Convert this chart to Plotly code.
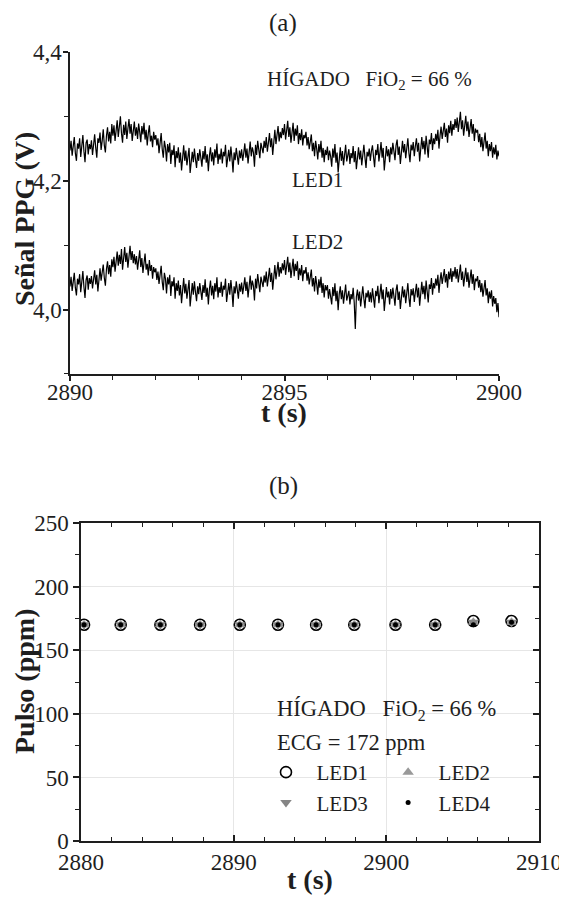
import plotly.graph_objects as go

# ---------------- data: panel (a) PPG signals (V), sampled every 0.025 s from t = 2890 s
ppg_t0 = 2890.0
ppg_dt = 0.025
ppg_led1 = [
    4.247, 4.262, 4.239, 4.255, 4.268, 4.243, 4.231, 4.258, 4.250, 4.266, 4.237, 4.254, 4.271, 4.246, 4.229, 4.259, 4.264, 4.241, 4.257, 4.249,
    4.263, 4.240, 4.256, 4.272, 4.251, 4.236, 4.266, 4.259, 4.275, 4.248, 4.262, 4.280, 4.255, 4.244, 4.270, 4.283, 4.261, 4.276, 4.258, 4.288,
    4.270, 4.286, 4.262, 4.279, 4.294, 4.268, 4.283, 4.300, 4.274, 4.259, 4.287, 4.271, 4.292, 4.265, 4.281, 4.296, 4.273, 4.288, 4.262, 4.284,
    4.292, 4.270, 4.283, 4.265, 4.289, 4.276, 4.260, 4.285, 4.272, 4.290, 4.264, 4.279, 4.255, 4.274, 4.286, 4.261, 4.270, 4.252, 4.276, 4.264,
    4.271, 4.255, 4.266, 4.243, 4.260, 4.274, 4.249, 4.236, 4.262, 4.252, 4.230, 4.257, 4.244, 4.259, 4.226, 4.248, 4.240, 4.255, 4.221, 4.246,
    4.235, 4.252, 4.228, 4.244, 4.216, 4.240, 4.255, 4.231, 4.247, 4.224, 4.238, 4.251, 4.212, 4.236, 4.245, 4.229, 4.250, 4.233, 4.220, 4.243,
    4.231, 4.249, 4.237, 4.222, 4.246, 4.233, 4.254, 4.228, 4.241, 4.215, 4.239, 4.252, 4.230, 4.244, 4.224, 4.249, 4.236, 4.258, 4.226, 4.242,
    4.233, 4.250, 4.227, 4.245, 4.238, 4.256, 4.221, 4.240, 4.248, 4.230, 4.253, 4.236, 4.213, 4.244, 4.232, 4.251, 4.239, 4.225, 4.247, 4.235,
    4.249, 4.231, 4.243, 4.258, 4.236, 4.250, 4.227, 4.246, 4.261, 4.238, 4.252, 4.244, 4.222, 4.256, 4.240, 4.262, 4.247, 4.235, 4.259, 4.251,
    4.243, 4.262, 4.251, 4.268, 4.245, 4.259, 4.274, 4.252, 4.266, 4.240, 4.263, 4.279, 4.257, 4.270, 4.285, 4.261, 4.276, 4.266, 4.282, 4.271,
    4.288, 4.264, 4.279, 4.293, 4.268, 4.283, 4.259, 4.276, 4.290, 4.262, 4.281, 4.270, 4.286, 4.257, 4.274, 4.263, 4.280, 4.255, 4.271, 4.266,
    4.276, 4.255, 4.268, 4.249, 4.263, 4.272, 4.246, 4.259, 4.238, 4.262, 4.250, 4.233, 4.257, 4.244, 4.262, 4.236, 4.251, 4.229, 4.248, 4.240,
    4.253, 4.232, 4.247, 4.238, 4.222, 4.250, 4.236, 4.257, 4.228, 4.244, 4.213, 4.239, 4.252, 4.231, 4.246, 4.224, 4.241, 4.256, 4.230, 4.238,
    4.249, 4.226, 4.243, 4.235, 4.254, 4.229, 4.246, 4.218, 4.240, 4.252, 4.233, 4.247, 4.224, 4.241, 4.256, 4.236, 4.220, 4.245, 4.238, 4.250,
    4.231, 4.246, 4.255, 4.237, 4.221, 4.248, 4.240, 4.257, 4.230, 4.244, 4.260, 4.236, 4.251, 4.216, 4.243, 4.254, 4.238, 4.249, 4.229, 4.252,
    4.241, 4.259, 4.246, 4.232, 4.255, 4.264, 4.240, 4.253, 4.226, 4.249, 4.262, 4.244, 4.257, 4.235, 4.251, 4.266, 4.243, 4.229, 4.256, 4.247,
    4.260, 4.238, 4.254, 4.266, 4.245, 4.259, 4.230, 4.255, 4.268, 4.249, 4.262, 4.241, 4.270, 4.253, 4.236, 4.264, 4.257, 4.274, 4.248, 4.266,
    4.257, 4.273, 4.262, 4.279, 4.250, 4.270, 4.284, 4.265, 4.277, 4.290, 4.268, 4.281, 4.259, 4.286, 4.274, 4.293, 4.270, 4.288, 4.279, 4.296,
    4.282, 4.298, 4.276, 4.291, 4.307, 4.280, 4.294, 4.270, 4.289, 4.301, 4.277, 4.292, 4.268, 4.285, 4.296, 4.273, 4.288, 4.262, 4.281, 4.275,
    4.279, 4.260, 4.273, 4.252, 4.268, 4.246, 4.264, 4.275, 4.250, 4.262, 4.238, 4.257, 4.246, 4.260, 4.236, 4.252, 4.241, 4.256, 4.233, 4.247,
    4.238,
]
ppg_led2 = [
    4.036, 4.051, 4.029, 4.045, 4.057, 4.034, 4.022, 4.048, 4.039, 4.055, 4.027, 4.043, 4.060, 4.035, 4.018, 4.046, 4.053, 4.031, 4.049, 4.040,
    4.052, 4.033, 4.047, 4.061, 4.039, 4.054, 4.028, 4.050, 4.064, 4.045, 4.058, 4.070, 4.049, 4.037, 4.063, 4.075, 4.055, 4.069, 4.051, 4.078,
    4.066, 4.082, 4.059, 4.076, 4.090, 4.068, 4.085, 4.071, 4.094, 4.062, 4.080, 4.097, 4.074, 4.088, 4.065, 4.083, 4.099, 4.077, 4.091, 4.072,
    4.086, 4.070, 4.083, 4.062, 4.079, 4.092, 4.066, 4.080, 4.057, 4.074, 4.087, 4.062, 4.071, 4.053, 4.077, 4.060, 4.069, 4.048, 4.066, 4.058,
    4.064, 4.046, 4.059, 4.040, 4.055, 4.068, 4.043, 4.030, 4.057, 4.048, 4.025, 4.050, 4.039, 4.054, 4.021, 4.044, 4.036, 4.050, 4.017, 4.041,
    4.029, 4.045, 4.022, 4.038, 4.010, 4.034, 4.049, 4.025, 4.040, 4.017, 4.032, 4.046, 4.005, 4.030, 4.041, 4.023, 4.044, 4.027, 4.013, 4.036,
    4.024, 4.041, 4.030, 4.015, 4.038, 4.026, 4.047, 4.020, 4.034, 4.008, 4.032, 4.045, 4.022, 4.037, 4.016, 4.041, 4.028, 4.050, 4.019, 4.035,
    4.026, 4.043, 4.020, 4.037, 4.031, 4.048, 4.012, 4.033, 4.041, 4.023, 4.046, 4.029, 4.004, 4.036, 4.025, 4.044, 4.032, 4.017, 4.040, 4.028,
    4.042, 4.024, 4.036, 4.050, 4.029, 4.043, 4.019, 4.038, 4.053, 4.031, 4.045, 4.037, 4.014, 4.048, 4.033, 4.055, 4.040, 4.027, 4.051, 4.043,
    4.035, 4.053, 4.042, 4.059, 4.036, 4.050, 4.065, 4.043, 4.057, 4.031, 4.054, 4.069, 4.047, 4.060, 4.074, 4.051, 4.066, 4.056, 4.072, 4.061,
    4.077, 4.054, 4.069, 4.082, 4.058, 4.073, 4.049, 4.066, 4.079, 4.052, 4.071, 4.060, 4.075, 4.046, 4.064, 4.053, 4.069, 4.044, 4.061, 4.056,
    4.066, 4.045, 4.058, 4.039, 4.053, 4.062, 4.036, 4.049, 4.028, 4.052, 4.040, 4.023, 4.047, 4.034, 4.051, 4.026, 4.041, 4.019, 4.038, 4.030,
    4.038, 4.017, 4.032, 4.023, 4.008, 4.035, 4.021, 4.041, 4.013, 4.029, 3.999, 4.024, 4.036, 4.016, 4.030, 4.009, 4.026, 4.039, 4.014, 4.022,
    4.029, 4.008, 4.024, 4.016, 4.034, 4.011, 3.970, 4.020, 4.031, 4.014, 4.028, 4.005, 4.022, 4.036, 4.017, 4.002, 4.026, 4.019, 4.030, 4.012,
    4.027, 4.011, 4.033, 4.018, 4.003, 4.029, 4.021, 4.037, 4.010, 4.025, 4.040, 4.016, 4.031, 3.998, 4.024, 4.035, 4.019, 4.028, 4.008, 4.032,
    4.017, 4.034, 4.021, 4.006, 4.030, 4.039, 4.015, 4.028, 4.001, 4.024, 4.036, 4.019, 4.031, 4.010, 4.026, 4.041, 4.018, 4.004, 4.032, 4.022,
    4.033, 4.012, 4.027, 4.040, 4.019, 4.034, 4.006, 4.029, 4.043, 4.024, 4.037, 4.016, 4.045, 4.028, 4.011, 4.039, 4.032, 4.049, 4.023, 4.041,
    4.033, 4.048, 4.037, 4.054, 4.026, 4.045, 4.058, 4.040, 4.051, 4.063, 4.042, 4.055, 4.034, 4.059, 4.047, 4.064, 4.043, 4.060, 4.051, 4.066,
    4.048, 4.063, 4.042, 4.057, 4.070, 4.046, 4.059, 4.036, 4.054, 4.065, 4.043, 4.058, 4.034, 4.051, 4.062, 4.040, 4.055, 4.030, 4.048, 4.044,
    4.052, 4.034, 4.046, 4.027, 4.041, 4.020, 4.037, 4.046, 4.022, 4.033, 4.010, 4.028, 4.017, 4.030, 4.005, 4.021, 4.009, 4.018, 3.996, 4.010,
    3.988,
]

# ---------------- data: panel (b) pulse rate (ppm)
pulse_t = [2880.2, 2882.6, 2885.2, 2887.8, 2890.4, 2892.9, 2895.4, 2897.9, 2900.6, 2903.2, 2905.7, 2908.2]
pulse_led1 = [170, 170, 170, 170, 170, 170, 170, 170, 170, 170, 173, 173]
pulse_led2 = [170, 170, 170, 170, 170, 170, 170, 170, 170, 170, 172, 172]
pulse_led3 = [170, 170, 170, 170, 170, 170, 170, 170, 170, 170, 172, 172]
pulse_led4 = [170, 170, 170, 170, 170, 170, 170, 170, 170, 170, 170, 172]

# ---------------- tick labels
a_xticks = [2890, 2895, 2900]
a_yticks = [4.0, 4.2, 4.4]
a_yticktext = ["4,0", "4,2", "4,4"]
b_xticks = [2880, 2890, 2900, 2910]
b_yticks = [0, 50, 100, 150, 200, 250]

FONT = "Liberation Serif"
INK = "#1e1e1e"

fig = go.Figure()

fig.add_trace(go.Scatter(x0=ppg_t0, dx=ppg_dt, y=ppg_led1, mode="lines",
                         line=dict(color="black", width=1.2), showlegend=False,
                         xaxis="x", yaxis="y"))
fig.add_trace(go.Scatter(x0=ppg_t0, dx=ppg_dt, y=ppg_led2, mode="lines",
                         line=dict(color="black", width=1.2), showlegend=False,
                         xaxis="x", yaxis="y"))

fig.add_trace(go.Scatter(x=pulse_t, y=pulse_led1, mode="markers", name="\u00a0\u00a0LED1",
                         marker=dict(symbol="circle-open", size=11, color="black", line=dict(width=1.6)),
                         xaxis="x2", yaxis="y2", legend="legend"))
fig.add_trace(go.Scatter(x=pulse_t, y=pulse_led2, mode="markers", name="\u00a0\u00a0LED2",
                         marker=dict(symbol="triangle-up", size=10, color="#999999"),
                         xaxis="x2", yaxis="y2", legend="legend2"))
fig.add_trace(go.Scatter(x=pulse_t, y=pulse_led3, mode="markers", name="\u00a0\u00a0LED3",
                         marker=dict(symbol="triangle-down", size=10, color="#858585"),
                         xaxis="x2", yaxis="y2", legend="legend"))
fig.add_trace(go.Scatter(x=pulse_t, y=pulse_led4, mode="markers", name="\u00a0\u00a0LED4",
                         marker=dict(symbol="circle", size=5, color="black"),
                         xaxis="x2", yaxis="y3", legend="legend2"))

axis_common = dict(showline=True, linecolor=INK, linewidth=1.5, zeroline=False, automargin=False,
                   tickfont=dict(family=FONT, size=23, color=INK), tickcolor=INK)

fig.update_layout(
    width=559, height=892,
    margin=dict(l=0, r=0, t=0, b=0, autoexpand=False),
    paper_bgcolor="white", plot_bgcolor="white",
    font=dict(family=FONT, color=INK),
    xaxis=dict(domain=[0.1109, 0.8784], anchor="y", range=[2890, 2900],
               tickvals=a_xticks, ticks="outside", ticklen=5, tickwidth=1.5, ticklabelstandoff=-8,
               minor=dict(dtick=1, ticks="outside", ticklen=4, tickcolor=INK, tickwidth=1.2),
               showgrid=False, **axis_common),
    yaxis=dict(domain=[0.5897, 0.9507], anchor="x", range=[3.9, 4.4],
               tickvals=a_yticks, ticktext=a_yticktext, ticks="outside", ticklen=5, tickwidth=1.5,
               ticklabelstandoff=-3,
               minor=dict(dtick=0.1, tick0=4.0, ticks="outside", ticklen=4, tickcolor=INK, tickwidth=1.2),
               showgrid=False, **axis_common),
    xaxis2=dict(domain=[0.1306, 0.9499], anchor="y2", range=[2880, 2910],
                tickvals=b_xticks, ticks="inside", ticklen=6, tickwidth=1.5, mirror="ticks",
                minor=dict(dtick=2, tick0=2880, ticks="inside", ticklen=4, tickcolor=INK, tickwidth=1.2, showgrid=False),
                showgrid=True, gridcolor="#e6e6e6", gridwidth=1, **axis_common),
    yaxis2=dict(domain=[0.0661, 0.4226], anchor="x2", range=[0, 250],
                tickvals=b_yticks, ticks="outside", ticklen=6, tickwidth=1.5, mirror=True,
                minor=dict(dtick=25, tick0=0, ticks="outside", ticklen=4, tickcolor=INK, tickwidth=1.2, showgrid=False),
                showgrid=True, gridcolor="#e6e6e6", gridwidth=1, **axis_common),
    yaxis3=dict(overlaying="y2", anchor="x2", side="right", range=[0, 250], automargin=False,
                tickvals=b_yticks, ticks="inside", ticklen=6, tickwidth=1.5, showticklabels=False,
                minor=dict(dtick=25, tick0=0, ticks="inside", ticklen=4, tickcolor=INK, tickwidth=1.2, showgrid=False),
                showgrid=False, showline=True, linecolor=INK, linewidth=1.5, zeroline=False, tickcolor=INK),
    legend=dict(x=0.4615, y=0.1659, xanchor="left", yanchor="top", bgcolor="rgba(0,0,0,0)",
                font=dict(family=FONT, size=21, color=INK), tracegroupgap=0, itemwidth=30),
    legend2=dict(x=0.680, y=0.1659, xanchor="left", yanchor="top", bgcolor="rgba(0,0,0,0)",
                 font=dict(family=FONT, size=21, color=INK), tracegroupgap=0, itemwidth=30),
)

ann_font = dict(family=FONT, size=21, color=INK)
ann_font_b = dict(family=FONT, size=22.5, color=INK)
title_font = dict(family=FONT, size=28, color=INK)
annotations = [
    dict(text="(a)", x=0.492, y=0.9832, font=dict(family=FONT, size=25, color=INK)),
    dict(text="(b)", x=0.492, y=0.4641, font=dict(family=FONT, size=25, color=INK)),
    dict(text="HÍGADO\u00a0\u00a0\u00a0FiO<sub>2</sub> = 66 %", x=0.4597, y=0.9193, xanchor="left", font=ann_font),
    dict(text="LED1", x=0.5045, y=0.8072, xanchor="left", font=ann_font),
    dict(text="LED2", x=0.5045, y=0.7377, xanchor="left", font=ann_font),
    dict(text="HÍGADO\u00a0\u00a0\u00a0FiO<sub>2</sub> = 66 %", x=0.4776, y=0.2130, xanchor="left", font=ann_font_b),
    dict(text="ECG = 172 ppm", x=0.4776, y=0.1771, xanchor="left", font=ann_font_b),
    # axis titles
    dict(text="<b>Señal PPG (V)</b>", x=0.0304, y=0.7635, textangle=-90, font=title_font),
    dict(text="<b>Pulso (ppm)</b>", x=0.0286, y=0.2455, textangle=-90, font=title_font),
    dict(text="<b>t (s)</b>", x=0.4937, y=0.5460, font=title_font),
    dict(text="<b>t (s)</b>", x=0.5403, y=0.0235, font=title_font),
]
for a in annotations:
    a.update(xref="paper", yref="paper", showarrow=False, yanchor="middle")
    a.setdefault("xanchor", "center")
fig.update_layout(annotations=annotations)

fig.write_html("out.html")
